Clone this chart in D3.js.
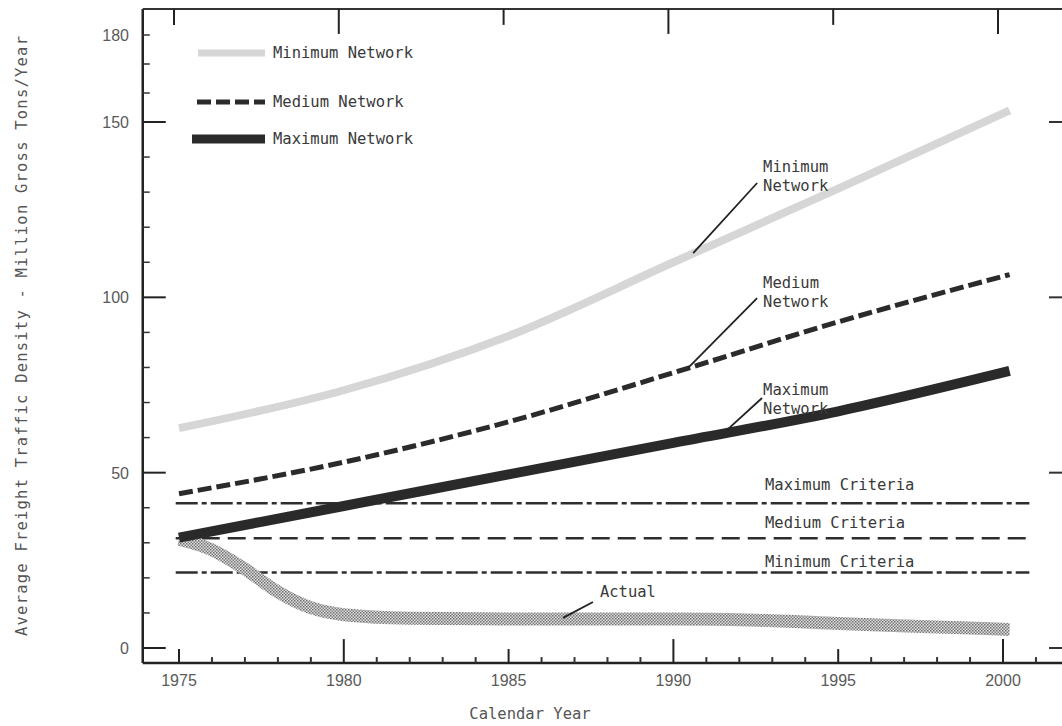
<!DOCTYPE html>
<html>
<head>
<meta charset="utf-8">
<script src="https://cdn.jsdelivr.net/npm/d3@7"></script>
<style>
  body { margin: 0; background: #fff; }
  svg { display: block; }
  .mono { font-family: "DejaVu Sans Mono", monospace; font-size: 15.5px; fill: #3a3a3a; }
  .num { font-family: "Liberation Sans", Arial, sans-serif; font-size: 16px; fill: #5a5a5a; }
</style>
</head>
<body>
<div class="chart"></div>
<script>
// ---- data ----
const networkYears = [1975, 1980, 1985, 1990, 1995, 2000.2];
const minNetwork   = [62.7, 73.5, 89, 110, 131, 154];
const medNetwork   = [44, 53, 64.5, 78.5, 93, 106.5];
const maxNetwork   = [31.5, 40.5, 49.5, 58.5, 67.5, 79];

const actualYears  = [1975, 1976, 1977, 1978, 1979, 1980, 1982, 1985, 1990, 1993, 1995, 1998, 2000.2];
const actualValues = [31, 28, 22.5, 16, 11.5, 9.5, 8.5, 8.3, 8.3, 7.8, 7, 6, 5.3];

const criteriaNames  = ["Maximum Criteria", "Medium Criteria", "Minimum Criteria"];
const criteriaValues = [41.3, 31.3, 21.5];
const criteriaSpan   = [1974.9, 2000.8];

const xTickLabels = [1975, 1980, 1985, 1990, 1995, 2000];
const yTickLabels = [0, 50, 100, 150, 180];
const legendNames = ["Minimum Network", "Medium Network", "Maximum Network"];

// ---- layout ----
const width = 1062, height = 726;
const svg = d3.select("div.chart").append("svg")
    .attr("width", width).attr("height", height);

const x = d3.scaleLinear().domain([1975, 2000]).range([179, 1003]);
// the printed axis is a little squeezed above 150
const y = d3.scaleLinear().domain([0, 150, 180]).range([648, 122, 35]);

const frameLeft = 1973.9, frameBottom = -4.3, frameTop = 189;

const defs = svg.append("defs");
const hatch = defs.append("pattern")
    .attr("id", "hatch").attr("patternUnits", "userSpaceOnUse")
    .attr("width", 3).attr("height", 3);
hatch.append("rect").attr("width", 3).attr("height", 3).attr("fill", "#dedede");
hatch.append("rect").attr("width", 1.5).attr("height", 1.5).attr("fill", "#707070");
hatch.append("rect").attr("x", 1.5).attr("y", 1.5).attr("width", 1.5).attr("height", 1.5).attr("fill", "#808080");

const g = svg.append("g");

// frame lines
g.append("line")
    .attr("x1", x(frameLeft)).attr("x2", x(frameLeft))
    .attr("y1", y(frameTop)).attr("y2", y(frameBottom))
    .attr("stroke", "#222").attr("stroke-width", 2.5);
g.append("line")
    .attr("x1", x(frameLeft)).attr("x2", width)
    .attr("y1", y(frameBottom)).attr("y2", y(frameBottom))
    .attr("stroke", "#222").attr("stroke-width", 2.5);
g.append("line")
    .attr("x1", x(frameLeft)).attr("x2", width)
    .attr("y1", y(frameTop)).attr("y2", y(frameTop))
    .attr("stroke", "#333").attr("stroke-width", 2);

// x ticks (pointing up from the bottom line, down from the top line)
const xMinor = d3.range(1976, 2002).filter(d => d % 5 != 0);
g.selectAll(".xminor").data(xMinor).enter().append("line")
    .attr("x1", d => x(d)).attr("x2", d => x(d))
    .attr("y1", y(frameBottom)).attr("y2", y(frameBottom) - 6)
    .attr("stroke", "#333").attr("stroke-width", 2);
g.selectAll(".xmajor").data(xTickLabels).enter().append("line")
    .attr("x1", d => x(d)).attr("x2", d => x(d))
    .attr("y1", y(frameBottom)).attr("y2", d => y(frameBottom) - (d % 10 == 0 ? 24 : 14))
    .attr("stroke", "#222").attr("stroke-width", 2);
g.selectAll(".xtop").data(xTickLabels).enter().append("line")
    .attr("x1", d => x(d) - 5).attr("x2", d => x(d) - 5)
    .attr("y1", y(frameTop)).attr("y2", d => y(frameTop) + (d % 10 == 0 ? 25 : 16))
    .attr("stroke", "#222").attr("stroke-width", 2);
g.selectAll(".xlabel").data(xTickLabels).enter().append("text")
    .attr("class", "num")
    .attr("x", d => x(d)).attr("y", 686)
    .attr("text-anchor", "middle")
    .text(d => d);

// y ticks (pointing right, into the plot)
const yMinor = d3.range(10, 181, 10).filter(d => d % 50 != 0);
g.selectAll(".yminor").data(yMinor).enter().append("line")
    .attr("x1", x(frameLeft)).attr("x2", x(frameLeft) + 7)
    .attr("y1", d => y(d)).attr("y2", d => y(d))
    .attr("stroke", "#333").attr("stroke-width", 1.5);
g.selectAll(".ymajor").data([0, 50, 100, 150]).enter().append("line")
    .attr("x1", x(frameLeft)).attr("x2", x(frameLeft) + 23)
    .attr("y1", d => y(d)).attr("y2", d => y(d))
    .attr("stroke", "#222").attr("stroke-width", 2);
g.selectAll(".yright").data([0, 50, 100, 150]).enter().append("line")
    .attr("x1", width - 13).attr("x2", width)
    .attr("y1", d => y(d)).attr("y2", d => y(d))
    .attr("stroke", "#333").attr("stroke-width", 2);
g.selectAll(".ylabel").data(yTickLabels).enter().append("text")
    .attr("class", "num")
    .attr("x", 129).attr("y", d => y(d) + 6)
    .attr("text-anchor", "end")
    .text(d => d);

// axis titles
svg.append("text")
    .attr("class", "mono")
    .attr("x", 530).attr("y", 719)
    .attr("text-anchor", "middle")
    .style("fill", "#555")
    .text("Calendar Year");
svg.append("text")
    .attr("class", "mono")
    .attr("transform", "translate(27," + 336 + ") rotate(-90)")
    .attr("text-anchor", "middle")
    .attr("textLength", 600).attr("lengthAdjust", "spacing")
    .style("fill", "#555")
    .text("Average Freight Traffic Density - Million Gross Tons/Year");

// criteria lines
const criteriaDash = ["22,4,5,4", "18,8", "22,4,5,4"];
criteriaValues.forEach((v, i) => {
  g.append("line")
      .attr("x1", x(criteriaSpan[0])).attr("x2", x(criteriaSpan[1]))
      .attr("y1", y(v)).attr("y2", y(v))
      .attr("stroke", "#2e2e2e").attr("stroke-width", 2.5)
      .attr("stroke-dasharray", criteriaDash[i]);
});
const criteriaLabelAt = [[1992.78, 45.1], [1992.78, 34.2], [1992.78, 23.1]];
criteriaNames.forEach((name, i) => {
  g.append("text").attr("class", "mono")
      .attr("x", x(criteriaLabelAt[i][0])).attr("y", y(criteriaLabelAt[i][1]))
      .text(name);
});

// network lines
const line = d3.line()
    .x(d => x(d[0]))
    .y(d => y(d[1]))
    .curve(d3.curveMonotoneX);

const zipYears = (yrs, vals) => yrs.map((yr, i) => [yr, vals[i]]);

g.append("path")
    .datum(zipYears(networkYears, minNetwork))
    .attr("fill", "none").attr("stroke", "#d6d6d6").attr("stroke-width", 8)
    .attr("d", line);

g.append("path")
    .datum(zipYears(networkYears, medNetwork))
    .attr("fill", "none").attr("stroke", "#2b2b2b").attr("stroke-width", 5)
    .attr("stroke-dasharray", "14,5")
    .attr("d", line);

g.append("path")
    .datum(zipYears(actualYears, actualValues))
    .attr("fill", "none").attr("stroke", "url(#hatch)").attr("stroke-width", 13)
    .attr("d", line);

g.append("path")
    .datum(zipYears(networkYears, maxNetwork))
    .attr("fill", "none").attr("stroke", "#2a2a2a").attr("stroke-width", 10)
    .attr("d", line);

// callouts: two text lines, pointer from label to the curve
const callouts = [
  { lines: ["Minimum", "Network"], at: [1992.72, 135.7], from: [1992.54, 132.6], to: [1990.6, 112.6] },
  { lines: ["Medium", "Network"],  at: [1992.72, 102.7], from: [1992.54, 99.8],  to: [1990.44, 79.8] },
  { lines: ["Maximum", "Network"], at: [1992.72, 72.1],  from: [1992.69, 71.3],  to: [1991.63, 62.2] },
  { lines: ["Actual"],             at: [1987.77, 14.5],  from: [1987.56, 13.1],  to: [1986.65, 8.6] }
];
callouts.forEach(c => {
  g.append("line")
      .attr("x1", x(c.from[0])).attr("y1", y(c.from[1]))
      .attr("x2", x(c.to[0])).attr("y2", y(c.to[1]))
      .attr("stroke", "#222").attr("stroke-width", 1.8);
  c.lines.forEach((t, i) => {
    g.append("text").attr("class", "mono")
        .attr("x", x(c.at[0])).attr("y", y(c.at[1]) + i * 19)
        .text(t);
  });
});

// legend
const legend = svg.append("g").attr("transform", "translate(192,0)");
const legendY = [53, 102, 139];
legend.append("line").attr("x1", 6).attr("x2", 73).attr("y1", legendY[0]).attr("y2", legendY[0])
    .attr("stroke", "#d6d6d6").attr("stroke-width", 7);
legend.append("line").attr("x1", 5).attr("x2", 73).attr("y1", legendY[1]).attr("y2", legendY[1])
    .attr("stroke", "#2b2b2b").attr("stroke-width", 5).attr("stroke-dasharray", "14,5");
legend.append("line").attr("x1", 0).attr("x2", 73).attr("y1", legendY[2]).attr("y2", legendY[2])
    .attr("stroke", "#2a2a2a").attr("stroke-width", 9);
legendNames.forEach((name, i) => {
  legend.append("text").attr("class", "mono")
      .attr("x", 81).attr("y", legendY[i] + 5)
      .text(name);
});
</script>
</body>
</html>
